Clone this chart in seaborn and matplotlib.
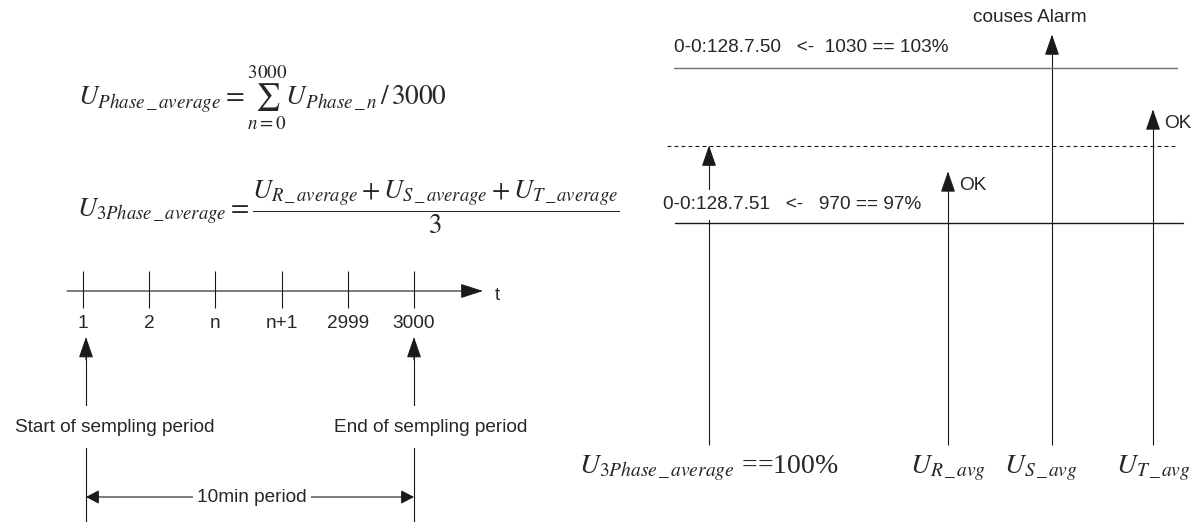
import matplotlib
matplotlib.use('Agg')
import matplotlib.pyplot as plt
import pandas as pd
import seaborn as sns

# values
sample_labels = ['1', '2', 'n', 'n+1', '2999', '3000']
start_label = 'Start of sempling period'
end_label = 'End of sempling period'
period_label = '10min period'

formula_phase = (r'$U_{Phase\,\_\,average}=\sum_{n=0}^{3000}'
                 r'U_{Phase\,\_\,n}\,/\,3000$')
formula_3phase = (r'$U_{3Phase\,\_\,average}=\dfrac{U_{R\,\_\,average}'
                  r'+U_{S\,\_\,average}+U_{T\,\_\,average}}{3}$')

limit_codes = ['0-0:128.7.50', '0-0:128.7.51']
limit_raw = [1030, 970]
limit_pct = [103, 97]
nominal_pct = 100

phase_labels = [r'$U_{3Phase\,\_\,average}$ ==100%',
                r'$U_{R\,\_\,avg}$', r'$U_{S\,\_\,avg}$', r'$U_{T\,\_\,avg}$']
phase_pct = [100, 99.0, 104.3, 101.4]
phase_notes = ['', 'OK', 'couses Alarm', 'OK']

# layout (pixels)
W, H = 1199, 522
tick_x0, tick_step = 83, 66.2
tl_y, tl_x0, tl_tip = 291, 67, 483
phase_x = [709, 948, 1052, 1153]
label_shift = [0, 0, -8, 0]
shaft_bottom_px = 445
py0, px_per_pct = 145.5, 25.83

sns.set_theme(style='white')
plt.rcParams['font.family'] = ['Liberation Sans', 'DejaVu Sans']
plt.rcParams['mathtext.fontset'] = 'stix'
FS = 13.7
INK = '#1a1a1a'


def px2pct(py):
    return nominal_pct + (py0 - py) / px_per_pct


def arrow(ax, x0, y0, x1, y1, style='-|>', hl=13, hw=4.5, color=INK, lw=0.8):
    ax.annotate('', xy=(x1, y1), xytext=(x0, y0),
                arrowprops=dict(arrowstyle=f'{style},head_length={hl},head_width={hw}',
                                mutation_scale=1, shrinkA=0, shrinkB=0,
                                lw=lw, color=color))


fig = plt.figure(figsize=(W / 100, H / 100), dpi=100)
axL = fig.add_axes([0, 0, 1, 1])
axL.set_xlim(0, W)
axL.set_ylim(H, 0)
axL.axis('off')
axR = fig.add_axes([0, 0, 1, 1])
axR.set_xlim(0, W)
axR.set_ylim(px2pct(H), px2pct(0))
axR.axis('off')
axR.patch.set_alpha(0)

# ---- left: formulas ----
axL.text(78, 98, formula_phase, fontsize=19.6, va='center', ha='left')
axL.text(77, 207, formula_3phase, fontsize=19.2, va='center', ha='left')

# ---- left: sampling timeline ----
tick_x = [tick_x0 + i * tick_step for i in range(len(sample_labels))]
arrow(axL, tl_x0, tl_y, tl_tip, tl_y, hl=14, hw=4.5)
axL.text(tl_tip + 12, tl_y + 4, 't', fontsize=FS, va='center', ha='left')
axL.vlines(tick_x, tl_y - 20, tl_y + 17, color=INK, lw=0.8)
for x, lab in zip(tick_x, sample_labels):
    axL.text(x, tl_y + 32, lab, fontsize=FS, ha='center', va='center')

start_x, end_x = tick_x[0] + 3, tick_x[-1]
for x, lab in [(start_x, start_label), (end_x, end_label)]:
    axL.vlines(x, 350, H, color=INK, lw=0.8)
    arrow(axL, x, 360, x, 337, hl=13, hw=4.5)
    axL.text(x + (29 if x == start_x else 17), 427, lab, fontsize=FS,
             ha='center', va='center',
             bbox=dict(facecolor='white', edgecolor='none', pad=9))

arrow(axL, start_x, 497, end_x, 497, style='<|-|>', hl=8, hw=4.2)
axL.text((start_x + end_x) / 2 + 2, 497, period_label, fontsize=FS,
         ha='center', va='center',
         bbox=dict(facecolor='white', edgecolor='none', pad=3))

# ---- right: limits ----
limit_df = pd.DataFrame({
    'x': [674, 1177, 675, 1183],
    'pct': [limit_pct[0], limit_pct[0], limit_pct[1], limit_pct[1]],
    'limit': [limit_codes[0]] * 2 + [limit_codes[1]] * 2,
})
sns.lineplot(data=limit_df, x='x', y='pct', hue='limit',
             palette=['#707070', INK], lw=1.0, legend=False, ax=axR,
             estimator=None, sort=False)
axR.hlines(nominal_pct, 667, 1178, color=INK, lw=0.8, linestyles=(0, (3.5, 2.8)))

axR.annotate(f'{limit_codes[0]}   <-  {limit_raw[0]} == {limit_pct[0]}%',
             xy=(674, limit_pct[0]), xytext=(0, 14.5), textcoords='offset points',
             fontsize=FS, ha='left', va='center')
axR.annotate(f'{limit_codes[1]}   <-   {limit_raw[1]} == {limit_pct[1]}%',
             xy=(663, limit_pct[1]), xytext=(0, 13), textcoords='offset points',
             fontsize=FS, ha='left', va='center',
             bbox=dict(facecolor='white', edgecolor='none', pad=5))

# ---- right: phase arrows ----
bottom_pct = px2pct(shaft_bottom_px)
for x, pct, lab, note, dx in zip(phase_x, phase_pct, phase_labels, phase_notes, label_shift):
    axR.vlines(x, bottom_pct, pct - 0.4, color=INK, lw=0.8, zorder=1)
    arrow(axR, x, pct - 0.75, x, pct, hl=13, hw=4.5)
    axR.annotate(lab, xy=(x, bottom_pct), xytext=(dx, -17),
                 textcoords='offset points', fontsize=20,
                 family='Liberation Serif', ha='center', va='center')
    if note == 'OK':
        axR.annotate(note, xy=(x, pct), xytext=(8, -10),
                     textcoords='offset points', fontsize=FS,
                     ha='left', va='center')
    elif note:
        axR.annotate(note, xy=(x, pct), xytext=(-16, 12),
                     textcoords='offset points', fontsize=FS,
                     ha='center', va='center')

fig.savefig('out.png', dpi=100)
